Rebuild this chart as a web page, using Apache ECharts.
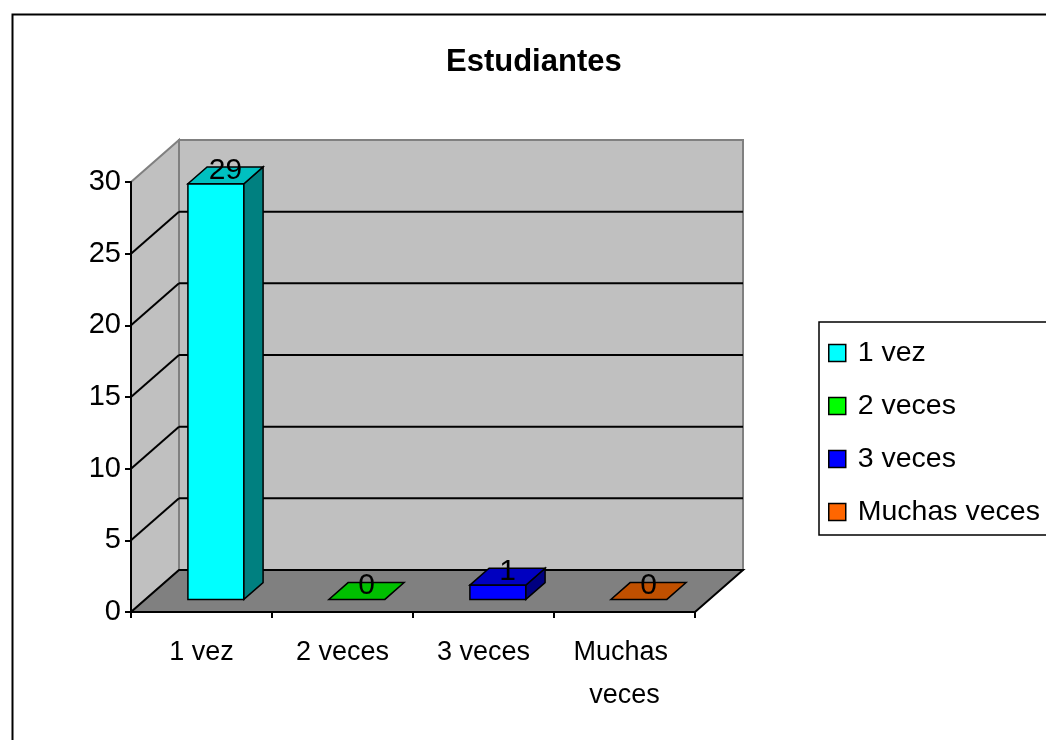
<!DOCTYPE html>
<html>
<head>
<meta charset="utf-8">
<script src="https://cdn.jsdelivr.net/npm/echarts@6/dist/echarts.min.js"></script>
<style>html,body{margin:0;padding:0;background:#fff;}#main{width:1046px;height:740px;}</style>
</head>
<body>
<div id="main"></div>
<script>
// ---- data ----
const categories = ['1 vez', '2 veces', '3 veces', 'Muchas veces'];
const values = [29, 0, 1, 0];
const yTicks = [0, 5, 10, 15, 20, 25, 30];
const titleText = 'Estudiantes';

// ---- styles ----
const frontColors = ['#00ffff', '#00ff00', '#0000ff', '#ff6600'];
const topColors = ['#00c0c0', '#00c000', '#0000c0', '#c05000'];
const sideColors = ['#008080', '#008000', '#000080', '#803300'];
const FONT = '"Liberation Sans", Arial, sans-serif';
const DX = 48, DY = -42;          // 3D depth offset in pixels
const F0 = 0.30, F1 = 0.70;       // bar depth fraction
const BAR_FRAC = 0.397;

const chart = echarts.init(document.getElementById('main'), null, {renderer: 'canvas'});

function backdrop(params, api) {
  const bw = api.size([1, 0])[0];
  const x0 = api.coord([0, 0])[0] - bw / 2;
  const x1 = api.coord([categories.length - 1, 0])[0] + bw / 2;
  const yb = api.coord([0, yTicks[0]])[1];
  const yt = api.coord([0, yTicks[yTicks.length - 1]])[1];
  const ch = [];
  ch.push({type: 'polygon', shape: {points: [[x0 + DX, yt + DY], [x1 + DX, yt + DY], [x1 + DX, yb + DY], [x0 + DX, yb + DY]]},
    style: {fill: '#c0c0c0', stroke: '#808080', lineWidth: 2}});
  ch.push({type: 'polygon', shape: {points: [[x0, yt], [x0 + DX, yt + DY], [x0 + DX, yb + DY], [x0, yb]]},
    style: {fill: '#c0c0c0', stroke: '#808080', lineWidth: 2}});
  ch.push({type: 'polygon', shape: {points: [[x0, yb], [x1, yb], [x1 + DX, yb + DY], [x0 + DX, yb + DY]]},
    style: {fill: '#808080', stroke: '#000', lineWidth: 2}});
  yTicks.slice(1, -1).forEach(t => {
    const y = api.coord([0, t])[1];
    ch.push({type: 'line', shape: {x1: x0 + DX, y1: y + DY, x2: x1 + DX, y2: y + DY}, style: {stroke: '#000', lineWidth: 2}});
    ch.push({type: 'line', shape: {x1: x0, y1: y, x2: x0 + DX, y2: y + DY}, style: {stroke: '#000', lineWidth: 2}});
  });
  return {type: 'group', children: ch};
}

function makeBar(ci) {
  return function (params, api) {
    const idx = api.value(0), v = api.value(1);
    const base = api.coord([idx, 0]);
    const top = api.coord([idx, v]);
    const bw = api.size([1, 0])[0];
    const w = bw * BAR_FRAC;
    const ox = DX * F0, oy = DY * F0;
    const ddx = DX * (F1 - F0), ddy = DY * (F1 - F0);
    const xl = base[0] - w / 2 + ox, xr = xl + w;
    const yb = base[1] + oy, yt = top[1] + oy;
    const ch = [];
    const st = {stroke: '#000', lineWidth: 1.5};
    if (v > 0) {
      ch.push({type: 'polygon', shape: {points: [[xl, yt], [xr, yt], [xr, yb], [xl, yb]]}, style: Object.assign({fill: frontColors[ci]}, st)});
      ch.push({type: 'polygon', shape: {points: [[xr, yt], [xr + ddx, yt + ddy], [xr + ddx, yb + ddy], [xr, yb]]}, style: Object.assign({fill: sideColors[ci]}, st)});
    }
    ch.push({type: 'polygon', shape: {points: [[xl, yt], [xr, yt], [xr + ddx, yt + ddy], [xl + ddx, yt + ddy]]}, style: Object.assign({fill: topColors[ci]}, st)});
    ch.push({type: 'text', style: {text: String(v), x: (xl + xr + ddx) / 2, y: yt + ddy / 2 - 5,
      align: 'center', verticalAlign: 'middle', font: '30px ' + FONT, fill: '#000'}});
    return {type: 'group', children: ch};
  };
}

const series = [{
  type: 'custom', name: '_backdrop', z: 1, silent: true,
  data: [[0, 0]], renderItem: backdrop
}];
categories.forEach((c, i) => {
  series.push({
    type: 'custom', name: c, z: 3,
    itemStyle: {color: frontColors[i], borderColor: '#000', borderWidth: 1.5},
    data: [[i, values[i]]],
    renderItem: makeBar(i)
  });
});

chart.setOption({
  animation: false,
  backgroundColor: '#fff',
  title: {
    text: titleText, left: 446, top: 47, padding: 0,
    textStyle: {fontFamily: FONT, fontWeight: 'bold', fontSize: 31, color: '#000'}
  },
  graphic: [{type: 'rect', shape: {x: 12.5, y: 14.5, width: 1040, height: 740}, style: {fill: 'none', stroke: '#000', lineWidth: 2}, z: 100}],
  legend: {
    orient: 'vertical', left: 819, top: 322,
    padding: [16, 12, 8, 9],
    borderColor: '#000', borderWidth: 1.5,
    icon: 'rect', itemWidth: 17, itemHeight: 17, itemGap: 23,
    itemStyle: {borderColor: '#000', borderWidth: 1.5},
    textStyle: {fontFamily: FONT, fontSize: 28.5, color: '#000', lineHeight: 30, padding: [0, 0, 0, 7]},
    data: categories
  },
  grid: {left: 131, top: 182, width: 564, height: 430, containLabel: false},
  xAxis: {
    type: 'category', data: categories, boundaryGap: true, z: 10,
    axisLine: {lineStyle: {color: '#000', width: 2}},
    axisTick: {show: true, length: 6, lineStyle: {color: '#000', width: 2}},
    axisLabel: {fontFamily: FONT, fontSize: 27, color: '#000', margin: 19, lineHeight: 43, width: 135, overflow: 'break', interval: 0},
    splitLine: {show: false}
  },
  yAxis: {
    type: 'value', min: 0, max: 30, interval: 5, z: 10,
    axisLine: {show: true, lineStyle: {color: '#000', width: 2}},
    axisTick: {show: true, length: 6, lineStyle: {color: '#000', width: 2}},
    axisLabel: {fontFamily: FONT, fontSize: 29, color: '#000', margin: 10},
    splitLine: {show: false}
  },
  series: series
});
</script>
</body>
</html>
